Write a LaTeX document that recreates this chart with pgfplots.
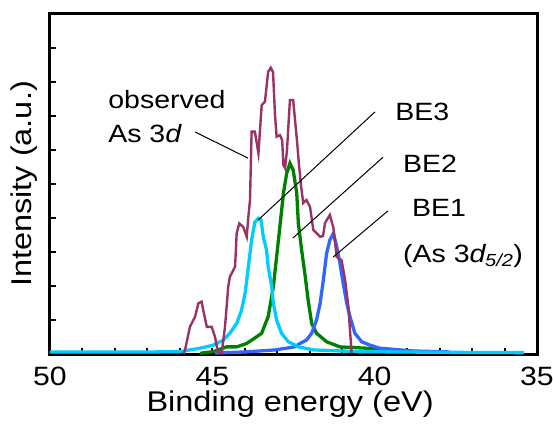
\documentclass[border=0pt]{standalone}
\usepackage{fontspec}
\setmainfont{Liberation Sans}[FakeStretch=1.14]
\usepackage{pgfplots}
\pgfplotsset{compat=1.18}
\definecolor{obs}{RGB}{153,51,102}
\definecolor{cbe3}{RGB}{0,204,255}
\definecolor{cbe2}{RGB}{0,128,0}
\definecolor{cbe1}{RGB}{51,102,255}
\begin{document}
\begin{tikzpicture}
\begin{axis}[
  scale only axis,
  width=487pt, height=340pt,
  x dir=reverse,
  xmin=35, xmax=50, ymin=0, ymax=10,
  axis line style={line width=3pt},
  xtick={35,40,45,50},
  minor xtick={36,37,38,39,41,42,43,44,46,47,48,49},
  ytick={1,2,3,4,5,6,7,8,9},
  yticklabels={},
  tick align=inside,
  xtick pos=bottom, ytick pos=left,
  major tick length=6pt, minor tick length=6pt,
  every tick/.style={black, line width=2pt},
  /pgf/number format/assume math mode=true,
  xticklabel style={anchor=base, inner sep=0pt, yshift=-31pt, font=\fontsize{26.5}{30}\selectfont},
  xlabel={Binding energy (eV)},
  ylabel={Intensity (a.u.)},
  xlabel style={at={(axis description cs:0.493,-0.168)}, anchor=base, inner sep=0pt, font=\fontsize{28.5}{33}\selectfont},
  ylabel style={at={(axis description cs:-0.053,0.5)}, anchor=center, inner sep=0pt, font=\fontsize{28.5}{33}\selectfont},
  clip=false,
]
\addplot[cbe2, line width=3.3pt] coordinates {
(45.38,0.02) (44.97,0.07) (44.56,0.21) (44.25,0.21) (43.94,0.31) (43.63,0.51)
(43.48,0.61) (43.28,1.10) (43.12,1.98) (43.02,2.86) (42.92,3.74) (42.81,4.73)
(42.71,5.31) (42.61,5.61) (42.51,5.41) (42.40,4.73) (42.35,3.84) (42.25,3.06)
(42.15,2.37) (42.05,1.59) (41.94,0.90) (41.79,0.61) (41.48,0.36) (41.07,0.21)
(40.25,0.17) (39.84,0.14) (38.6,0.06)
};
\addplot[cbe1, line width=3.3pt] coordinates {
(44.92,0.03) (43.99,0.06) (43.07,0.12) (42.46,0.21) (42.30,0.31) (42.10,0.41)
(41.94,0.61) (41.79,1.00) (41.68,1.49) (41.58,2.18) (41.48,2.96) (41.38,3.35)
(41.27,3.55) (41.17,3.16) (41.07,2.67) (40.97,2.08) (40.86,1.49) (40.76,1.10)
(40.61,0.61) (40.40,0.36) (40.14,0.26) (39.84,0.17) (38.82,0.09) (37.68,0.06)
};
\addplot[cbe3, line width=3.3pt] coordinates {
(50,0.06) (46.92,0.06) (46.00,0.07) (45.38,0.17) (44.97,0.26) (44.66,0.41)
(44.46,0.61) (44.25,0.90) (44.10,1.29) (43.99,1.79) (43.89,2.57) (43.79,3.35)
(43.69,3.88) (43.58,3.99) (43.50,3.94) (43.43,3.45) (43.33,3.06) (43.28,2.57)
(43.17,1.98) (43.12,1.49) (43.02,1.00) (42.87,0.61) (42.66,0.36) (42.35,0.21)
(41.89,0.12) (40.5,0.07) (38.0,0.05) (35.4,0.04)
};
\addplot[obs, line width=2.4pt] coordinates {
(45.89,0) (45.84,0.12) (45.69,0.80) (45.53,1.10) (45.43,1.49) (45.33,1.54)
(45.28,1.29) (45.17,0.80) (45.02,0.80) (44.92,0.51) (44.82,0.02) (44.71,0.03)
(44.61,0.80) (44.51,1.98) (44.46,2.27) (44.35,2.47) (44.30,2.57) (44.25,3.55)
(44.17,3.84) (44.05,3.74) (43.94,3.45) (43.89,4.04) (43.84,4.53) (43.79,6.54)
(43.69,6.54) (43.58,5.90) (43.48,7.32) (43.38,7.42) (43.28,8.30) (43.20,8.42)
(43.13,8.29) (43.07,7.03) (43.02,6.39) (42.92,6.44) (42.85,6.29) (42.81,5.56)
(42.76,5.47) (42.70,6.00) (42.61,7.47) (42.51,7.47) (42.40,6.35) (42.33,5.56)
(42.27,4.97) (42.20,4.44) (42.10,4.53) (41.99,4.32) (41.89,3.65) (41.68,3.45)
(41.59,3.47) (41.53,3.85) (41.38,4.09) (41.27,3.71) (41.17,2.86) (41.02,2.76)
(40.91,2.18) (40.81,1.39) (40.71,0.02)
};
% leader lines
\draw[black, line width=1pt] (axis cs:45.53,6.53) -- (axis cs:43.90,5.76);
\draw[black, line width=1pt] (axis cs:39.99,7.12) -- (axis cs:43.59,3.94);
\draw[black, line width=1pt] (axis cs:39.74,5.79) -- (axis cs:42.52,3.41);
\draw[black, line width=1pt] (axis cs:39.59,4.21) -- (axis cs:41.28,2.85);
% labels
\begin{scope}[every node/.style={anchor=base west, inner sep=0pt, font=\fontsize{25}{29}\selectfont}]
\node at (axis cs:48.21,7.21) {observed};
\node at (axis cs:48.21,6.21) {As 3\textit{d}};
\node at (axis cs:39.37,6.88) {BE3};
\node at (axis cs:39.13,5.35) {BE2};
\node at (axis cs:38.85,4.03) {BE1};
\node at (axis cs:39.13,2.68) {(As 3\textit{d}\textsubscript{\kern-1pt\textit{5/2}})};
\end{scope}
\end{axis}
\pgfresetboundingbox
\path[use as bounding box] (-50pt,-69pt) rectangle (503pt,354pt);
\end{tikzpicture}
\end{document}
